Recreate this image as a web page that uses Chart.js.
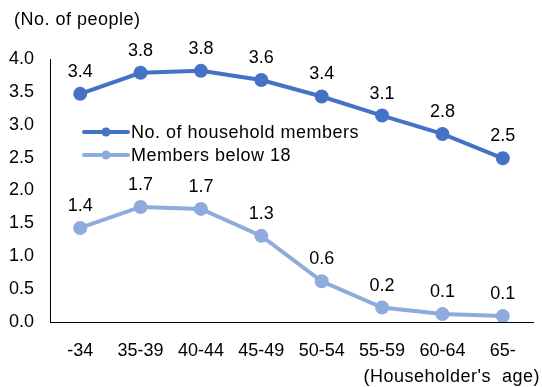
<!DOCTYPE html>
<html>
<head>
<meta charset="utf-8">
<script src="https://cdn.jsdelivr.net/npm/chart.js@4"></script>
<style>
  html, body { margin: 0; padding: 0; background: #fff; }
  #wrap { width: 542px; height: 387px; position: relative; }
</style>
</head>
<body>
<div id="wrap"><canvas id="chart" width="542" height="387"></canvas></div>
<script>
// chart data
const ageGroups = ['-34', '35-39', '40-44', '45-49', '50-54', '55-59', '60-64', '65-'];
const householdMembers = [3.47, 3.79, 3.82, 3.68, 3.43, 3.14, 2.86, 2.49];
const membersBelow18 = [1.43, 1.75, 1.72, 1.31, 0.62, 0.22, 0.12, 0.09];
// printed value labels, as shown on the chart
const householdLabels = ['3.4', '3.8', '3.8', '3.6', '3.4', '3.1', '2.8', '2.5'];
const below18Labels = ['1.4', '1.7', '1.7', '1.3', '0.6', '0.2', '0.1', '0.1'];
const seriesNames = ['No. of household members', 'Members below 18'];
const yTitle = '(No. of people)';
const xTitle = "(Householder's  age)";

const FONT = '"Liberation Sans", Arial, sans-serif';
const darkBlue = '#4472C4';
const lightBlue = '#8FAADC';
const pointLabels = [householdLabels, below18Labels];

// draws the value above each point
const valueLabels = {
    id: 'valueLabels',
    afterDatasetsDraw(chart) {
        const ctx = chart.ctx;
        ctx.save();
        ctx.font = '18px ' + FONT;
        ctx.fillStyle = '#000';
        ctx.textAlign = 'center';
        ctx.textBaseline = 'middle';
        chart.data.datasets.forEach((ds, i) => {
            const meta = chart.getDatasetMeta(i);
            meta.data.forEach((pt, j) => {
                ctx.fillText(pointLabels[i][j], pt.x, pt.y - 22);
            });
        });
        ctx.restore();
    }
};

// legend inside the plot plus the two axis captions
const extras = {
    id: 'extras',
    afterDraw(chart) {
        const ctx = chart.ctx;
        ctx.save();
        ctx.font = '18px ' + FONT;
        ctx.letterSpacing = '0.5px';
        ctx.fillStyle = '#000';
        ctx.textBaseline = 'middle';
        ctx.textAlign = 'left';
        ctx.fillText(yTitle, 14, 20);
        ctx.textAlign = 'right';
        ctx.fillText(xTitle, 540, 377);

        ctx.textAlign = 'left';
        chart.data.datasets.forEach((ds, i) => {
            const y = 132 + i * 23;
            ctx.strokeStyle = ds.borderColor;
            ctx.lineWidth = 4;
            ctx.lineCap = 'round';
            ctx.beginPath();
            ctx.moveTo(84, y);
            ctx.lineTo(128, y);
            ctx.stroke();
            ctx.fillStyle = ds.borderColor;
            ctx.beginPath();
            ctx.arc(106, y, 4.5, 0, Math.PI * 2);
            ctx.fill();
            ctx.fillStyle = '#000';
            ctx.fillText(ds.label, 131, y + 1);
        });
        ctx.restore();
    }
};

new Chart(document.getElementById('chart'), {
    type: 'line',
    data: {
        labels: ageGroups,
        datasets: [
            {
                label: seriesNames[0],
                data: householdMembers,
                borderColor: darkBlue,
                backgroundColor: darkBlue,
                borderWidth: 4,
                pointRadius: 5,
                pointHoverRadius: 5,
                tension: 0,
                fill: false
            },
            {
                label: seriesNames[1],
                data: membersBelow18,
                borderColor: lightBlue,
                backgroundColor: lightBlue,
                borderWidth: 4,
                pointRadius: 5,
                pointHoverRadius: 5,
                tension: 0,
                fill: false
            }
        ]
    },
    options: {
        responsive: false,
        animation: false,
        events: [],
        layout: { padding: { left: 0, right: 2, top: 59, bottom: 0 } },
        plugins: {
            legend: { display: false },
            tooltip: { enabled: false }
        },
        scales: {
            x: {
                offset: true,
                grid: { display: false, drawTicks: false },
                border: { color: '#000', width: 1 },
                ticks: { color: '#000', font: { family: FONT, size: 18 }, padding: 18, maxRotation: 0 },
                afterFit: scale => { scale.height = 65; }
            },
            y: {
                min: 0,
                max: 4,
                grid: { display: false, drawTicks: false },
                border: { color: '#000', width: 1 },
                ticks: {
                    stepSize: 0.5,
                    color: '#000',
                    font: { family: FONT, size: 18 },
                    padding: 16,
                    callback: v => v.toFixed(1)
                },
                afterFit: scale => { scale.width = 50; }
            }
        }
    },
    plugins: [valueLabels, extras]
});
</script>
</body>
</html>
